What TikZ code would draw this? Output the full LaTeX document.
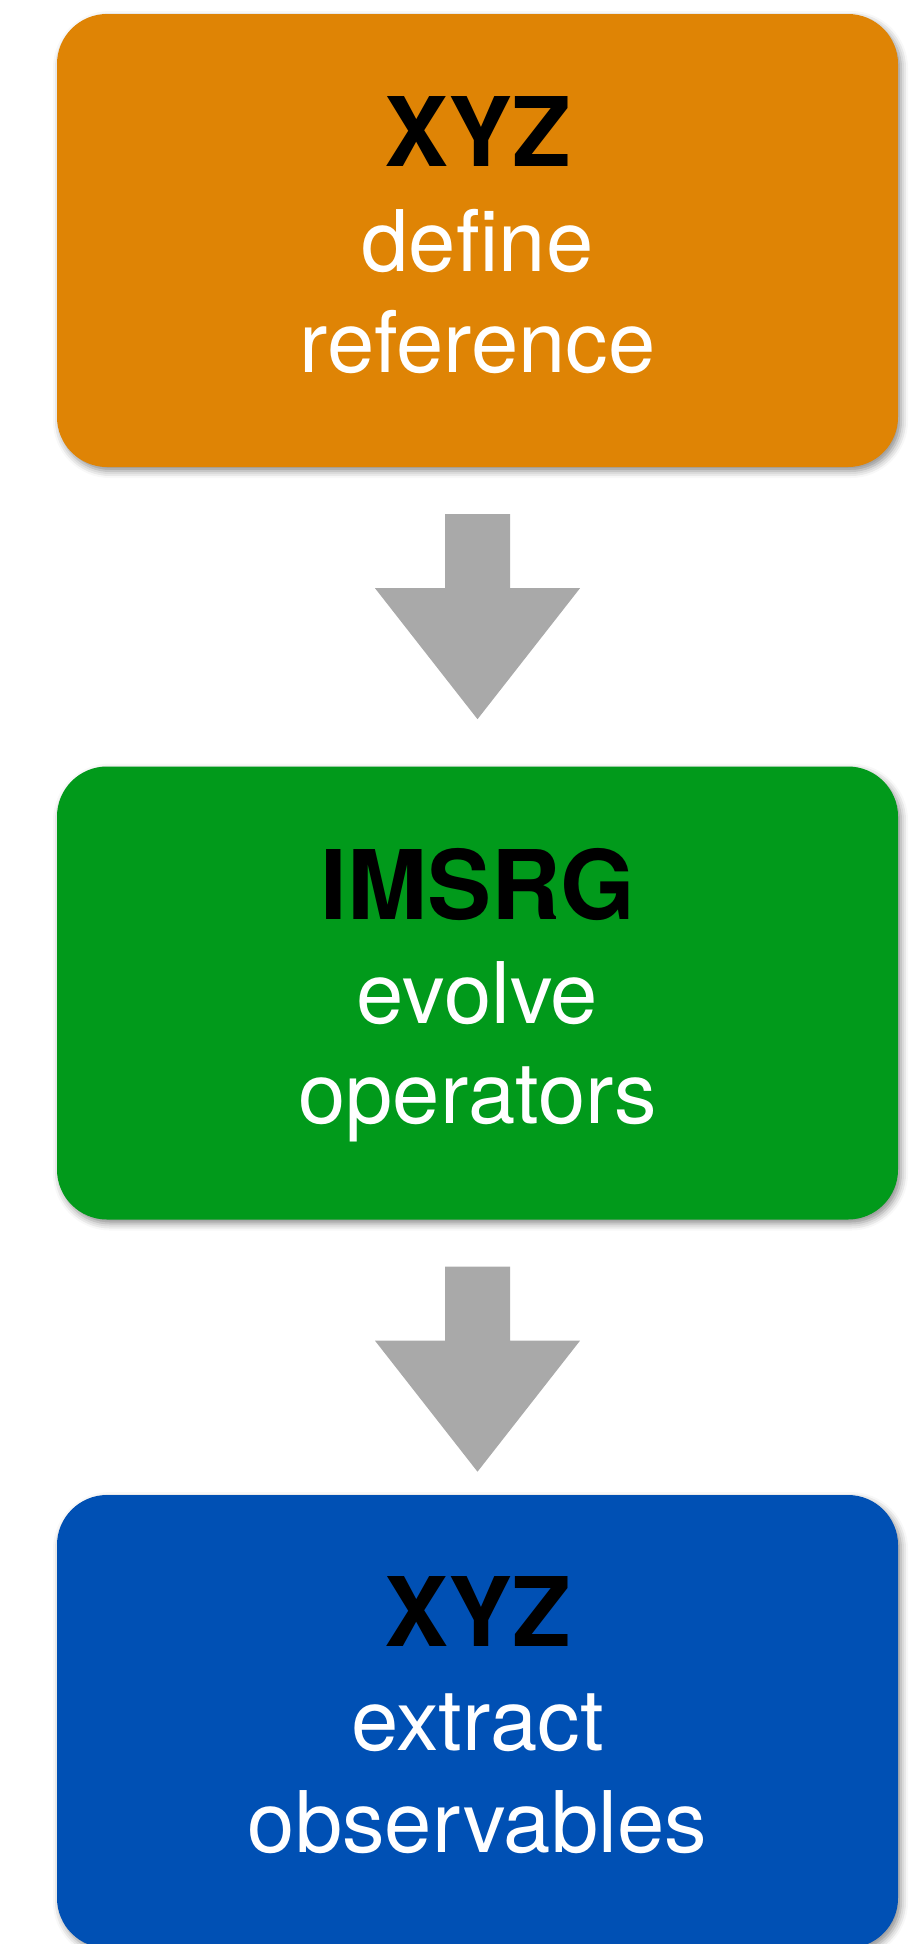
\documentclass[tikz,border=0pt]{standalone}
\usepackage{fontspec}
\setmainfont{TeX Gyre Heros}
\usetikzlibrary{shadows.blur,calc}
\definecolor{boxorange}{RGB}{223,132,5}
\definecolor{boxgreen}{RGB}{1,154,27}
\definecolor{boxblue}{RGB}{0,80,180}
\definecolor{arrowgray}{RGB}{169,169,169}
\tikzset{
  box/.style={rectangle, rounded corners=50pt, minimum width=841pt, minimum height=453pt,
    inner sep=0pt, draw=none,
    blur shadow={shadow xshift=3pt, shadow yshift=-4pt, shadow blur radius=7pt, shadow opacity=45}},
  titletext/.style={anchor=base, inner sep=0pt, text=black, font=\fontsize{96}{115}\selectfont\bfseries},
  bodytext/.style={anchor=base, inner sep=0pt, text=white, font=\fontsize{85}{102}\selectfont},
  blockarrow/.style={fill=arrowgray, draw=none}
}
\newcommand{\blockarr}[1]{%
  \fill[blockarrow] ($(#1)+(-32.5,0)$) -- ($(#1)+(32.5,0)$) -- ($(#1)+(32.5,74)$) -- ($(#1)+(102.5,74)$)
    -- ($(#1)+(0,205)$) -- ($(#1)+(-102.5,74)$) -- ($(#1)+(-32.5,74)$) -- cycle;}
\begin{document}
\begin{tikzpicture}[x=1pt,y=-1pt]
\useasboundingbox (0,0) rectangle (908,1944);
\node[box, fill=boxorange] (b1) at (477.5,240.5) {};
\node[box, fill=boxgreen] (b2) at (477.5,993) {};
\node[box, fill=boxblue] (b3) at (477.5,1721.5) {};

\node[titletext] (t1) at (477.5,166) {XYZ};
\node[bodytext] (s1a) at (477.5,271) {define};
\node[bodytext] (s1b) at (477.5,372) {reference};

\node[titletext] (t2) at (477.5,919) {IMSRG};
\node[bodytext] (s2a) at (477.5,1023) {evolve};
\node[bodytext] (s2b) at (477.5,1123) {operators};

\node[titletext] (t3) at (477.5,1646) {XYZ};
\node[bodytext] (s3a) at (477.5,1750) {extract};
\node[bodytext] (s3b) at (477.5,1852) {observables};

\coordinate (a1) at ($(b1.south)+(0,47)$);
\coordinate (a2) at ($(b2.south)+(0,47)$);
\blockarr{a1}
\blockarr{a2}
\end{tikzpicture}
\end{document}
